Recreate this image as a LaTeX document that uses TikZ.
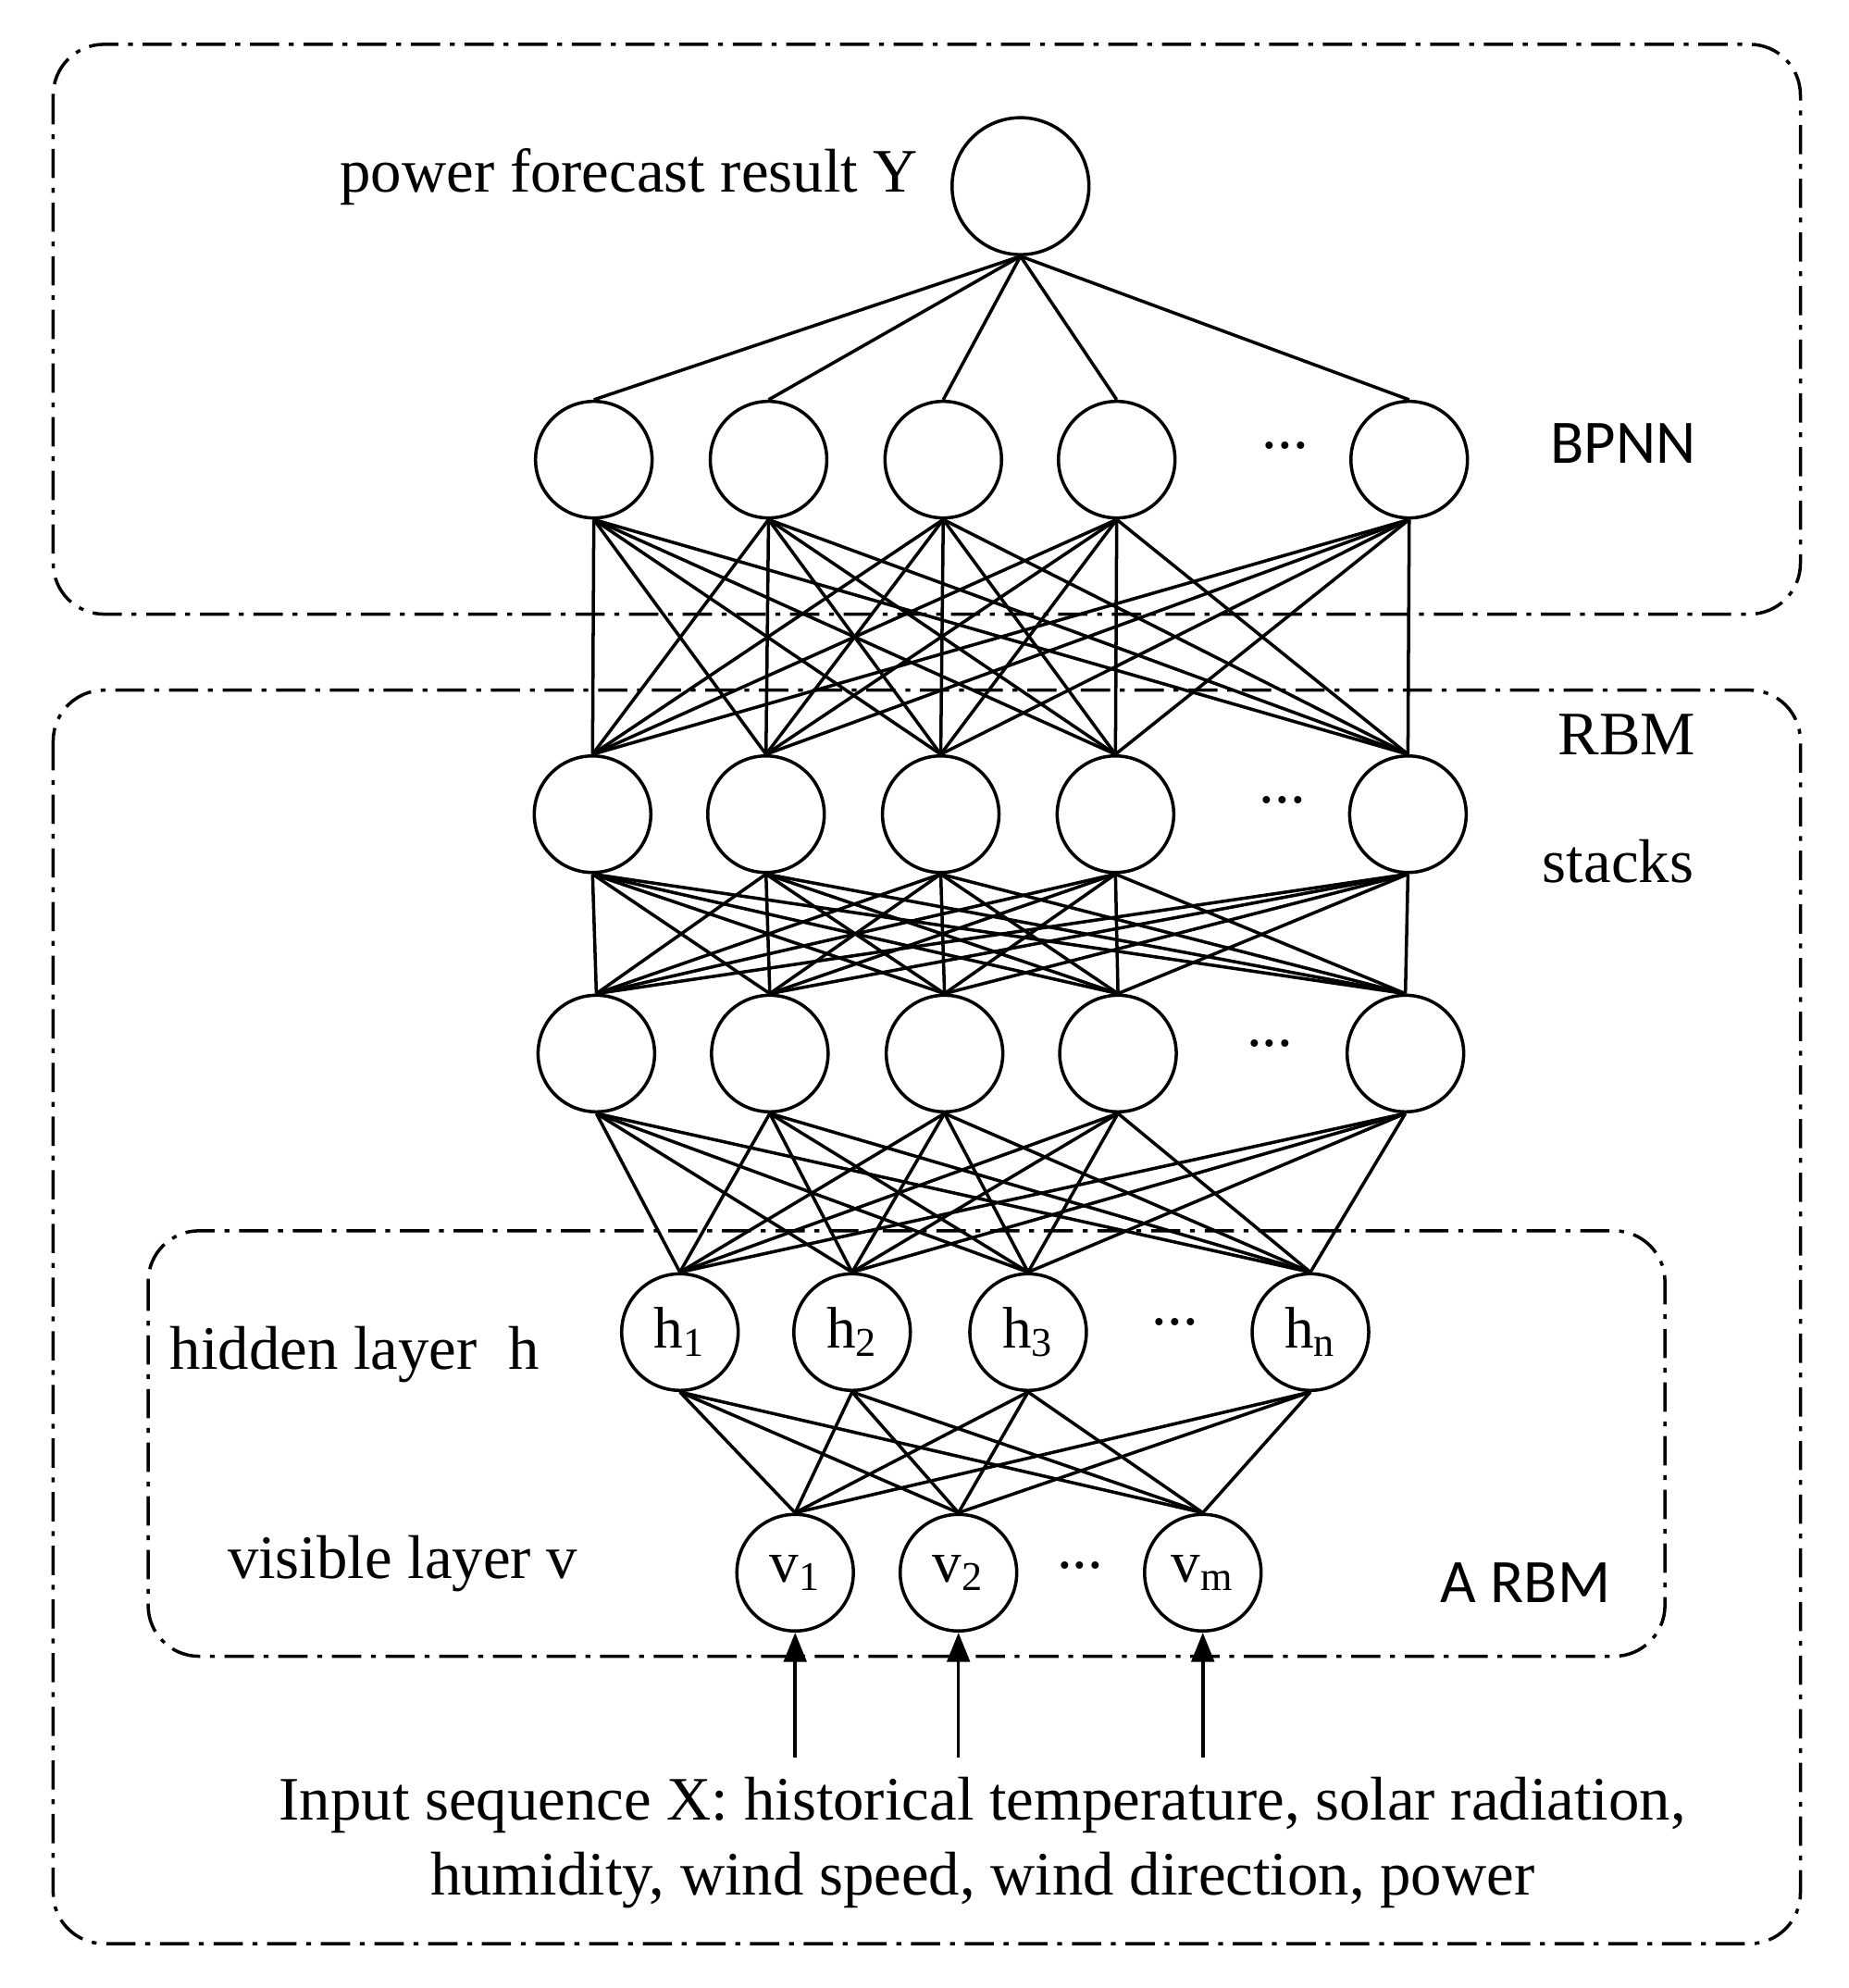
\documentclass[tikz,border=0pt]{standalone}
\usepackage{fontspec}
\setmainfont{Liberation Serif}
\newfontfamily\lblsans{Carlito}
\usetikzlibrary{arrows.meta}
\begin{document}
\begin{tikzpicture}[x=0.01368cm,y=-0.01368cm,line width=1pt,
  neuron/.style={circle,draw,minimum size=1.26cm,inner sep=0pt,font=\fontsize{18}{20}\selectfont},
  outneuron/.style={neuron,minimum size=1.48cm},
  frame/.style={draw,rounded corners=0.55cm,dash pattern=on 9pt off 3pt on 1.5pt off 3pt},
  txt/.style={font=\fontsize{19}{23}\selectfont},
  sans/.style={font=\lblsans\fontsize{19}{23}\selectfont}]
\useasboundingbox (0,0) rectangle (1460,1570);
% frames
\draw[frame] (42,35) rectangle (1422,485);
\draw[frame] (42,545) rectangle (1422,1535);
\draw[frame] (117,972) rectangle (1315,1308);
% output
\node[outneuron] (y) at (806,147) {};
\node[txt,anchor=east] (ylbl) at (735,140) {power forecast result Y};
% BPNN layer
\foreach \i/\x in {1/469,2/607,3/745,4/882,5/1113}
  \node[neuron] (a\i) at (\x,363) {};
\node[txt] (adots) at (1015,352) {...};
\node[sans] (bpnn) at (1282,350) {BPNN};
% stack layer 2
\foreach \i/\x in {1/468,2/605,3/743,4/881,5/1112}
  \node[neuron] (b\i) at (\x,643) {};
\node[txt] (bdots) at (1013,632) {...};
\node[txt] (rbm) at (1285,580) {RBM};
\node[txt] (stacks) at (1278,680) {stacks};
% stack layer 3
\foreach \i/\x in {1/471,2/608,3/746,4/883,5/1110}
  \node[neuron] (c\i) at (\x,832) {};
\node[txt] (cdots) at (1003,824) {...};
% hidden layer
\foreach \i/\x/\t in {1/537/1,2/673/2,3/812/3,4/1035/n}
  \node[neuron] (h\i) at (\x,1052) {h\textsubscript{\t}};
\node[txt] (hdots) at (928,1044) {...};
\node[txt] (hlbl) at (280,1070) {hidden layer\ \ h};
% visible layer
\foreach \i/\x/\t in {1/628/1,2/757/2,3/950/m}
  \node[neuron] (v\i) at (\x,1242) {v\textsubscript{\t}};
\node[txt] (vdots) at (853,1236) {...};
\node[txt] (vlbl) at (318,1235) {visible layer v};
\node[sans] (arbm) at (1205,1250) {A RBM};
% connections
\foreach \i in {1,...,5} \draw (y.south) -- (a\i.north);
\foreach \i in {1,...,5} \foreach \j in {1,...,5} \draw (a\i.south) -- (b\j.north);
\foreach \i in {1,...,5} \foreach \j in {1,...,5} \draw (b\i.south) -- (c\j.north);
\foreach \i in {1,...,5} \foreach \j in {1,...,4} \draw (c\i.south) -- (h\j.north);
\foreach \i in {1,...,4} \foreach \j in {1,2,3} \draw (h\i.south) -- (v\j.north);
% inputs
\foreach \i in {1,2,3} {
  \coordinate (in\i) at ([yshift=-1.35cm]v\i.south);
  \draw[-{Triangle[length=9pt,width=7pt]}] (in\i) -- (v\i.south);
}
\node[txt,align=center] (input) at (776,1455) {Input sequence X: historical temperature, solar radiation,\\humidity, wind speed, wind direction, power};
\end{tikzpicture}
\end{document}
